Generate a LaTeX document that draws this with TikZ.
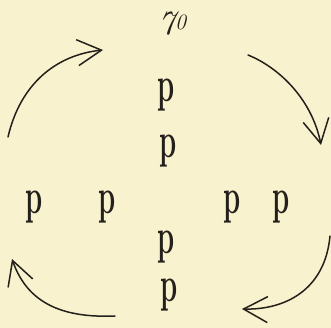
\documentclass[tikz,border=0pt]{standalone}
\usetikzlibrary{arrows.meta}
\definecolor{paper}{RGB}{249,242,206}
\definecolor{ink}{RGB}{36,32,28}
\newcommand{\handp}{\scalebox{0.55}[1]{p}}
\begin{document}
\begin{tikzpicture}[x=1pt,y=-1pt,
  letter/.style={inner sep=0pt, text=ink, font=\fontsize{50}{50}\selectfont\bfseries},
  curve/.style={draw=ink, line width=1.5pt, line cap=round,
    -{Straight Barb[length=24pt,width=26pt,line width=1.5pt]}}]
\fill[paper] (0,0) rectangle (331,328);
\useasboundingbox (0,0) rectangle (331,328);
% heading
\node[inner sep=0pt, text=ink] (num) at (172,24)
  {\itshape\fontsize{34}{34}\selectfont 7\fontsize{22}{22}\selectfont\raisebox{5pt}{0}};
% letters
\node[letter] (c1) at (166,95)  {\handp};
\node[letter] (c2) at (168,151) {\handp};
\node[letter] (c3) at (166,247) {\handp};
\node[letter] (c4) at (169,295) {\handp};
\node[letter] (r1) at (34,207)  {\handp};
\node[letter] (r2) at (107,207) {\handp};
\node[letter] (r3) at (232,207) {\handp};
\node[letter] (r4) at (281,207) {\handp};
% arrow ends
\coordinate (a1s) at (8,137);   \coordinate (a1e) at (103,50);
\coordinate (a2s) at (248,55);  \coordinate (a2e) at (321,145);
\coordinate (a3s) at (330,236); \coordinate (a3e) at (242,309);
\coordinate (a4s) at (115,316); \coordinate (a4e) at (12,259);
\draw[curve] (a1s) .. controls (20,85) and (55,55) .. (a1e);
\draw[curve] (a2s) .. controls (280,68) and (312,100) .. (a2e);
\draw[curve] (a3s) .. controls (325,290) and (285,310) .. (a3e);
\draw[curve] (a4s) .. controls (65,318) and (28,305) .. (a4e);
\end{tikzpicture}
\end{document}
